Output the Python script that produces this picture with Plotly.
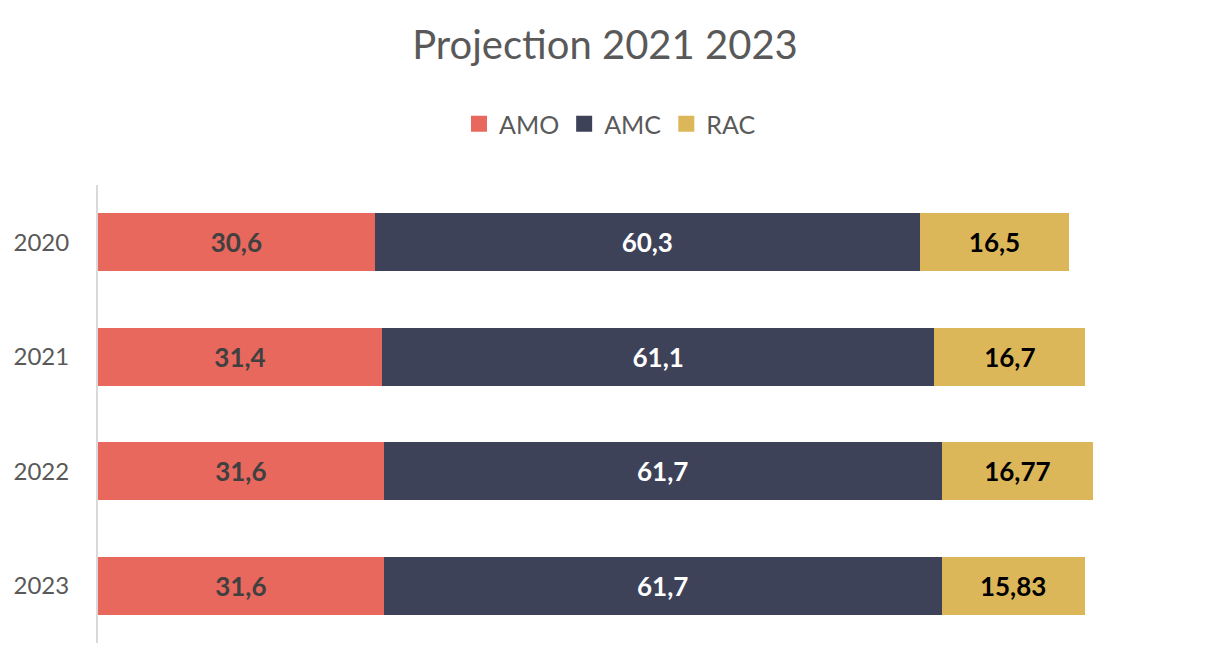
import plotly.graph_objects as go

years = ["2020", "2021", "2022", "2023"]
amo = [30.6, 31.4, 31.6, 31.6]
amc = [60.3, 61.1, 61.7, 61.7]
rac = [16.5, 16.7, 16.77, 15.83]

series = [
    ("AMO", amo, "#E8685E", "#404040"),
    ("AMC", amc, "#3E4259", "#FFFFFF"),
    ("RAC", rac, "#DCB75A", "#000000"),
]

FONT = "Lato"
OFF = 8  # page body offset
fig = go.Figure()
for name, vals, color, tcolor in series:
    fig.add_trace(go.Bar(
        name=name, y=years, x=vals, orientation="h",
        marker=dict(color=color, line=dict(width=0)),
        text=[f"{v:g}".replace(".", ",") for v in vals],
        textposition="inside", insidetextanchor="middle",
        textfont=dict(family=FONT, size=26, color=tcolor, weight="bold"),
        hoverinfo="skip", showlegend=False,
    ))
# legend entries with larger square swatches
for name, vals, color, tcolor in series:
    fig.add_trace(go.Scatter(
        name=name, x=[None], y=[None], mode="markers",
        marker=dict(symbol="square", size=16, color=color),
        hoverinfo="skip", showlegend=True,
    ))

W, H = 1208, 670
fig.update_layout(
    barmode="stack", bargap=0.49,
    width=W, height=H,
    paper_bgcolor="white", plot_bgcolor="white",
    margin=dict(l=98 - OFF, r=25 + OFF, t=185 - OFF, b=27 + OFF, autoexpand=False),
    font=dict(family=FONT, color="#595959"),
    title=dict(text="Projection 2021 2023", x=(605 - OFF) / W, xref="container", xanchor="center",
               y=1 - (45 - OFF) / H, yref="container", yanchor="middle",
               font=dict(family=FONT, size=40, color="#595959"), automargin=False),
    legend=dict(orientation="h", x=(610 - OFF) / W, xref="container", xanchor="center",
                y=1 - (124 - OFF) / H, yref="container", yanchor="middle",
                font=dict(family=FONT, size=25, color="#595959"),
                traceorder="normal", itemwidth=30),
    uniformtext=dict(mode="show", minsize=8),
)
fig.update_xaxes(range=[0, 120], visible=False, showgrid=False, zeroline=False, automargin=False)
fig.update_yaxes(autorange="reversed", showline=True, linecolor="#D9D9D9", linewidth=2,
                 ticks="", ticklabelstandoff=22, automargin=False,
                 tickfont=dict(family=FONT, size=24, color="#595959"), showgrid=False)

fig.write_html("out.html")
